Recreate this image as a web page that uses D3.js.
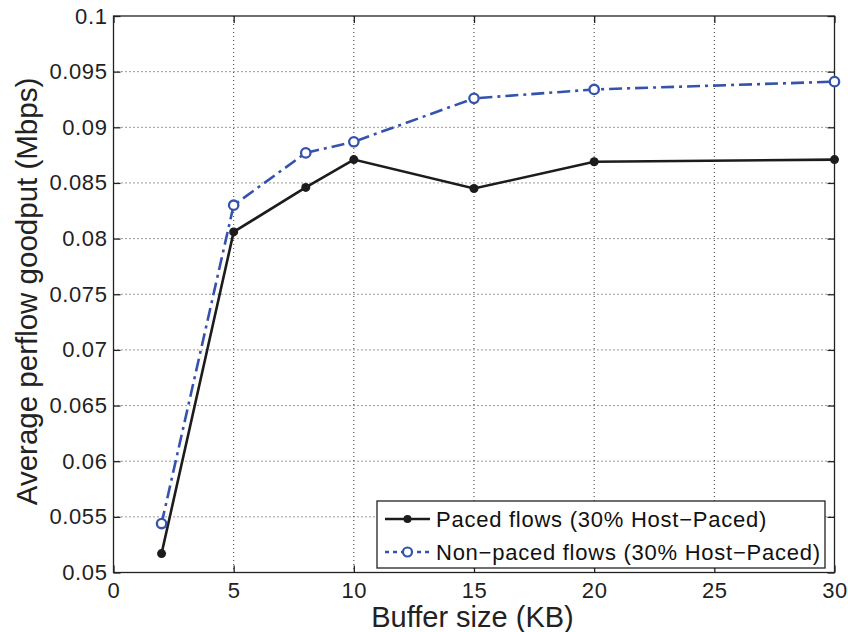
<!DOCTYPE html>
<html>
<head>
<meta charset="utf-8">
<script src="https://cdn.jsdelivr.net/npm/d3@7"></script>
<style>
  body { margin: 0; background: #fff; }
</style>
</head>
<body>
<div id="chart"></div>
<script>
// Data
const bufferSizes = [2, 5, 8, 10, 15, 20, 30];
const pacedGoodput = [0.0517, 0.0806, 0.0846, 0.0871, 0.0845, 0.0869, 0.0871];
const nonPacedGoodput = [0.0544, 0.0830, 0.0877, 0.0887, 0.0926, 0.0934, 0.0941];
const xTicks = [0, 5, 10, 15, 20, 25, 30];
const yTicks = [0.05, 0.055, 0.06, 0.065, 0.07, 0.075, 0.08, 0.085, 0.09, 0.095, 0.1];
const seriesNames = ["Paced flows (30% Host\u2212Paced)", "Non\u2212paced flows (30% Host\u2212Paced)"];

const W = 848, H = 632;
const margin = { top: 16, right: 13.5, bottom: 59.5, left: 113.5 };
const width = W - margin.left - margin.right,
      height = H - margin.top - margin.bottom;

const svg = d3.select("#chart").append("svg")
  .attr("width", W).attr("height", H)
  .style("font-family", "Liberation Sans, Arial, sans-serif");

const g = svg.append("g").attr("transform", `translate(${margin.left},${margin.top})`);

const x = d3.scaleLinear().domain([0, 30]).range([0, width]);
const y = d3.scaleLinear().domain([0.05, 0.1]).range([height, 0]);

// grid (dotted)
g.append("g").selectAll("line").data(xTicks.slice(1, -1)).join("line")
  .attr("x1", d => x(d)).attr("x2", d => x(d))
  .attr("y1", 0).attr("y2", height)
  .attr("stroke", "#333").attr("stroke-width", 1).attr("stroke-dasharray", "1,3");
g.append("g").selectAll("line").data(yTicks.slice(1, -1)).join("line")
  .attr("y1", d => y(d)).attr("y2", d => y(d))
  .attr("x1", 0).attr("x2", width)
  .attr("stroke", "#333").attr("stroke-width", 1).attr("stroke-dasharray", "1,3");

// axes with inward ticks
const fmtY = d => String(+d.toFixed(3));
function styleAxis(sel) {
  sel.select(".domain").remove();
  sel.selectAll("line").attr("stroke", "#222").attr("stroke-width", 1.3);
  sel.selectAll("text").attr("fill", "#222")
    .style("font-size", "22px").style("letter-spacing", "0.6px");
}
g.append("g").attr("transform", `translate(0,${height})`)
  .call(d3.axisBottom(x).tickValues(xTicks).tickSize(-7).tickPadding(10))
  .call(styleAxis);
g.append("g")
  .call(d3.axisLeft(y).tickValues(yTicks).tickFormat(fmtY).tickSize(-7).tickPadding(6))
  .call(styleAxis);
g.append("g")
  .call(d3.axisTop(x).tickValues(xTicks).tickSize(-7).tickFormat(""))
  .call(styleAxis);
g.append("g").attr("transform", `translate(${width},0)`)
  .call(d3.axisRight(y).tickValues(yTicks).tickSize(-7).tickFormat(""))
  .call(styleAxis);

// frame
g.append("rect").attr("width", width).attr("height", height)
  .attr("fill", "none").attr("stroke", "#222").attr("stroke-width", 1.3);

// series
const black = "#1c1c1c", blue = "#3553ad";
const line = d3.line().x(d => x(d[0])).y(d => y(d[1]));
const paced = bufferSizes.map((b, i) => [b, pacedGoodput[i]]);
const nonPaced = bufferSizes.map((b, i) => [b, nonPacedGoodput[i]]);

g.append("path").datum(nonPaced).attr("d", line)
  .attr("fill", "none").attr("stroke", blue).attr("stroke-width", 2.6)
  .attr("stroke-dasharray", "13,5,3,5");
g.append("path").datum(paced).attr("d", line)
  .attr("fill", "none").attr("stroke", black).attr("stroke-width", 2.6);

g.selectAll(".np").data(nonPaced).join("circle")
  .attr("cx", d => x(d[0])).attr("cy", d => y(d[1])).attr("r", 4.7)
  .attr("fill", "#fff").attr("stroke", blue).attr("stroke-width", 2.3);
g.selectAll(".p").data(paced).join("circle")
  .attr("cx", d => x(d[0])).attr("cy", d => y(d[1])).attr("r", 4.5)
  .attr("fill", black);

// legend
const lg = svg.append("g").attr("transform", "translate(377,501)");
lg.append("rect").attr("width", 448).attr("height", 67)
  .attr("fill", "#fff").attr("stroke", "#222").attr("stroke-width", 1.3);
const rows = [
  { name: seriesNames[0], color: black, dash: null, open: false, yy: 18 },
  { name: seriesNames[1], color: blue, dash: "4,4", open: true, yy: 51 }
];
rows.forEach(r => {
  lg.append("line").attr("x1", 8).attr("x2", 53).attr("y1", r.yy).attr("y2", r.yy)
    .attr("stroke", r.color).attr("stroke-width", 2.6)
    .attr("stroke-dasharray", r.dash);
  lg.append("circle").attr("cx", 30.5).attr("cy", r.yy).attr("r", r.open ? 4.5 : 4)
    .attr("fill", r.open ? "#fff" : r.color).attr("stroke", r.color)
    .attr("stroke-width", r.open ? 2.2 : 0);
  lg.append("text").attr("x", 59).attr("y", r.yy).attr("dy", "0.36em")
    .style("font-size", "22px").style("letter-spacing", "0.75px")
    .attr("fill", "#111").text(r.name);
});

// axis labels
svg.append("text").attr("x", 472.5).attr("y", 627)
  .attr("text-anchor", "middle").style("font-size", "29px").attr("fill", "#222")
  .text("Buffer size (KB)");
svg.append("text")
  .attr("transform", `translate(37,291.5) rotate(-90)`)
  .attr("text-anchor", "middle").style("font-size", "29.5px").attr("fill", "#222")
  .text("Average perflow goodput (Mbps)");
</script>
</body>
</html>
